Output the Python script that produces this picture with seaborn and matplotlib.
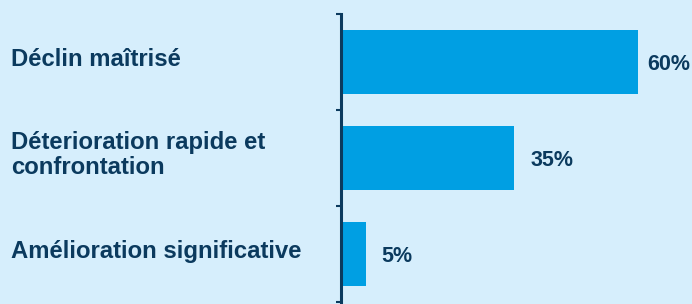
import matplotlib
matplotlib.use("Agg")
import matplotlib.pyplot as plt
import matplotlib.transforms as mtransforms
import seaborn as sns
import pandas as pd

# data
categories = ["Déclin maîtrisé", "Déterioration rapide et\nconfrontation", "Amélioration significative"]
values = [60, 35, 5]
value_labels = ["60%", "35%", "5%"]

bg = "#d6eefc"
bar_color = "#009fe3"
navy = "#0b3a5e"

sns.set_theme(style="white")
plt.rcParams["font.family"] = ["Liberation Sans", "DejaVu Sans"]

df = pd.DataFrame({"scenario": categories, "share": values})

fig = plt.figure(figsize=(6.92, 3.04), dpi=100)
fig.patch.set_facecolor(bg)
ax = fig.add_axes([341 / 692, 1 - 302 / 304, 346.5 / 692, 288 / 304])
ax.set_facecolor(bg)

sns.barplot(data=df, y="scenario", x="share", orient="h", color=bar_color,
            saturation=1, width=0.667, linewidth=0, edgecolor="none", ax=ax)

ax.set_xlim(0, 70)
ax.set_ylim(2.5, -0.5)
ax.set_xlabel("")
ax.set_ylabel("")
ax.set_xticks([])
ax.set_yticks([-0.5, 0.5, 1.5, 2.5])
ax.set_yticklabels([])
ax.tick_params(axis="y", direction="out", length=3.6, width=1.5, color=navy, left=True)
for s in ["top", "right", "bottom"]:
    ax.spines[s].set_visible(False)
ax.spines["left"].set_color(navy)
ax.spines["left"].set_linewidth(2.2)

# category labels on the left edge of the figure
trans = mtransforms.blended_transform_factory(fig.transFigure, ax.transData)
for i, cat in enumerate(categories):
    ax.text(11 / 692, i - 0.03, cat, transform=trans, ha="left", va="center",
            fontsize=17.2, fontweight="bold", color=navy, linespacing=1.08)

# value labels
for i, (v, lab) in enumerate(zip(values, value_labels)):
    off = 7 if v == max(values) else 11.5
    ax.annotate(lab, (v, i), xytext=(off, -1.5), textcoords="offset points",
                ha="left", va="center", fontsize=15.5, fontweight="bold", color=navy)

fig.savefig("out.png", dpi=100, facecolor=bg)
